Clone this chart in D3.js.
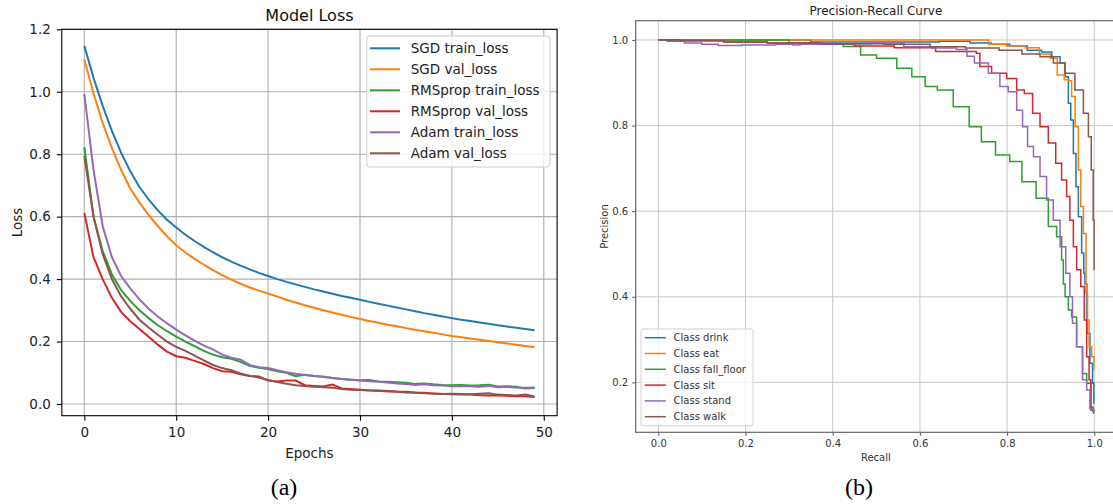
<!DOCTYPE html>
<html>
<head>
<meta charset="utf-8">
<script src="https://cdn.jsdelivr.net/npm/d3@7"></script>
<style>
  body { margin: 0; background: #fff; }
</style>
</head>
<body>
<div id="graph"></div>
<script>
// Model loss per epoch (panel a)
const epochs = d3.range(50);
const sgdTrain = [1.147, 1.045, 0.955, 0.875, 0.805, 0.745, 0.695, 0.655, 0.620, 0.590,
  0.565, 0.542, 0.522, 0.503, 0.486, 0.470, 0.456, 0.443, 0.431, 0.420,
  0.410, 0.400, 0.391, 0.383, 0.375, 0.367, 0.360, 0.353, 0.346, 0.340,
  0.334, 0.327, 0.321, 0.315, 0.309, 0.303, 0.297, 0.291, 0.286, 0.280,
  0.275, 0.270, 0.266, 0.261, 0.257, 0.252, 0.248, 0.244, 0.240, 0.236];
const sgdVal = [1.103, 0.995, 0.900, 0.820, 0.750, 0.690, 0.645, 0.605, 0.570, 0.537,
  0.508, 0.485, 0.465, 0.446, 0.429, 0.413, 0.398, 0.385, 0.373, 0.363,
  0.354, 0.344, 0.334, 0.325, 0.316, 0.308, 0.300, 0.293, 0.286, 0.279,
  0.272, 0.266, 0.260, 0.254, 0.249, 0.243, 0.238, 0.233, 0.228, 0.223,
  0.218, 0.214, 0.210, 0.206, 0.202, 0.198, 0.194, 0.190, 0.186, 0.182];
const rmspropTrain = [0.823, 0.600, 0.490, 0.415, 0.365, 0.330, 0.300, 0.275, 0.252, 0.233,
  0.216, 0.200, 0.185, 0.170, 0.158, 0.150, 0.145, 0.135, 0.122, 0.116,
  0.112, 0.105, 0.100, 0.089, 0.094, 0.090, 0.087, 0.083, 0.080, 0.078,
  0.076, 0.077, 0.072, 0.071, 0.070, 0.068, 0.064, 0.066, 0.063, 0.061,
  0.060, 0.061, 0.059, 0.060, 0.062, 0.056, 0.057, 0.055, 0.050, 0.051];
const rmspropVal = [0.612, 0.470, 0.400, 0.340, 0.295, 0.265, 0.240, 0.215, 0.190, 0.168,
  0.153, 0.148, 0.138, 0.128, 0.115, 0.105, 0.103, 0.095, 0.090, 0.088,
  0.075, 0.072, 0.075, 0.075, 0.060, 0.058, 0.056, 0.062, 0.050, 0.048,
  0.046, 0.044, 0.043, 0.042, 0.040, 0.039, 0.037, 0.036, 0.034, 0.032,
  0.031, 0.030, 0.030, 0.028, 0.027, 0.027, 0.026, 0.025, 0.025, 0.022];
const adamTrain = [0.993, 0.750, 0.570, 0.470, 0.410, 0.370, 0.335, 0.305, 0.280, 0.258,
  0.238, 0.220, 0.203, 0.187, 0.175, 0.158, 0.148, 0.142, 0.125, 0.118,
  0.115, 0.108, 0.102, 0.097, 0.093, 0.090, 0.087, 0.083, 0.080, 0.078,
  0.075, 0.073, 0.071, 0.069, 0.066, 0.064, 0.061, 0.063, 0.060, 0.059,
  0.057, 0.058, 0.057, 0.055, 0.058, 0.054, 0.055, 0.053, 0.052, 0.053];
const adamVal = [0.795, 0.600, 0.480, 0.400, 0.345, 0.305, 0.270, 0.245, 0.222, 0.200,
  0.183, 0.170, 0.155, 0.140, 0.125, 0.115, 0.108, 0.098, 0.090, 0.085,
  0.077, 0.070, 0.065, 0.060, 0.058, 0.055, 0.054, 0.052, 0.048, 0.046,
  0.045, 0.043, 0.042, 0.040, 0.039, 0.037, 0.036, 0.034, 0.033, 0.032,
  0.033, 0.032, 0.031, 0.033, 0.034, 0.030, 0.029, 0.027, 0.030, 0.024];
const lossNames = ['SGD train_loss', 'SGD val_loss', 'RMSprop train_loss', 'RMSprop val_loss', 'Adam train_loss', 'Adam val_loss'];
const lossTicksX = [0, 10, 20, 30, 40, 50];
const lossTicksY = [0.0, 0.2, 0.4, 0.6, 0.8, 1.0, 1.2];

// Precision-recall points [recall, precision] (panel b)
const prDrink = [[0, 1.0], [0.3, 1.0], [0.4, 0.995], [0.6, 0.995], [0.69, 0.997], [0.74, 0.993], [0.786, 0.99],
  [0.826, 0.986], [0.867, 0.976], [0.891, 0.972], [0.914, 0.961], [0.929, 0.946], [0.937, 0.914], [0.944, 0.852],
  [0.948, 0.813], [0.956, 0.735], [0.96, 0.657], [0.967, 0.587], [0.975, 0.502], [0.977, 0.455], [0.98, 0.43],
  [0.986, 0.315], [0.994, 0.245], [0.998, 0.198], [1.0, 0.151]];
const prEat = [[0, 1.0], [0.745, 1.0], [0.77, 0.99], [0.826, 0.986], [0.857, 0.982], [0.891, 0.967], [0.907, 0.957],
  [0.923, 0.918], [0.939, 0.907], [0.944, 0.905], [0.952, 0.868], [0.96, 0.797], [0.967, 0.696], [0.971, 0.611],
  [0.979, 0.548], [0.983, 0.408], [0.986, 0.346], [0.99, 0.283], [0.998, 0.26], [1.0, 0.23]];
const prFallFloor = [[0, 1.0], [0.3, 1.0], [0.3, 0.993], [0.424, 0.99], [0.424, 0.985], [0.458, 0.985], [0.47, 0.965],
  [0.531, 0.957], [0.563, 0.934], [0.6, 0.914], [0.624, 0.891], [0.656, 0.883], [0.697, 0.844], [0.729, 0.797],
  [0.753, 0.762], [0.794, 0.731], [0.818, 0.716], [0.85, 0.669], [0.883, 0.63], [0.906, 0.564], [0.921, 0.54],
  [0.929, 0.486], [0.929, 0.43], [0.937, 0.4], [0.944, 0.369], [0.952, 0.353], [0.967, 0.283], [0.979, 0.221],
  [0.986, 0.198], [0.998, 0.135], [1.0, 0.128]];
const prSit = [[0, 1.0], [0.1, 0.998], [0.2, 0.995], [0.3, 0.993], [0.4, 0.99], [0.5, 0.986], [0.583, 0.982],
  [0.624, 0.982], [0.648, 0.973], [0.729, 0.973],
  [0.73, 0.969], [0.745, 0.938], [0.784, 0.922], [0.814, 0.91], [0.83, 0.883], [0.849, 0.875], [0.868, 0.829],
  [0.883, 0.797], [0.906, 0.759], [0.917, 0.712], [0.933, 0.673], [0.94, 0.634], [0.948, 0.579], [0.956, 0.517],
  [0.963, 0.463], [0.975, 0.424], [0.979, 0.346], [0.986, 0.26], [0.99, 0.206], [0.994, 0.142], [1.0, 0.135]];
const prStand = [[0, 1.0], [0.04, 0.997], [0.08, 0.993], [0.12, 0.99], [0.155, 0.987], [0.23, 0.988], [0.308, 0.99],
  [0.31, 0.988], [0.34, 0.99], [0.44, 0.991], [0.535, 0.993], [0.591, 0.984],
  [0.664, 0.981], [0.704, 0.978], [0.712, 0.962], [0.738, 0.946], [0.776, 0.922], [0.791, 0.891], [0.814, 0.879],
  [0.83, 0.836], [0.841, 0.797], [0.853, 0.751], [0.868, 0.727], [0.883, 0.681], [0.898, 0.626], [0.914, 0.579],
  [0.929, 0.517], [0.94, 0.455], [0.948, 0.4], [0.952, 0.338], [0.967, 0.283], [0.979, 0.206], [0.986, 0.182],
  [0.994, 0.139], [1.0, 0.13]];
const prWalk = [[0, 1.0], [0.1, 0.998], [0.2, 0.995], [0.3, 0.993], [0.45, 0.991], [0.583, 0.99], [0.664, 0.984],
  [0.745, 0.981], [0.818, 0.976], [0.85, 0.967],
  [0.86, 0.967], [0.891, 0.961], [0.921, 0.946], [0.944, 0.922], [0.967, 0.883], [0.983, 0.829], [0.99, 0.774],
  [0.996, 0.696], [0.999, 0.579], [1.0, 0.463]];
const prNames = ['Class drink', 'Class eat', 'Class fall_floor', 'Class sit', 'Class stand', 'Class walk'];
const prTicks = [0.0, 0.2, 0.4, 0.6, 0.8, 1.0];
const prTicksY = [0.2, 0.4, 0.6, 0.8, 1.0];

const colors = ['#1f77b4', '#ff7f0e', '#2ca02c', '#d62728', '#9467bd', '#8c564b'];
const sans = '"DejaVu Sans", sans-serif';
const serif = '"Liberation Serif", "Times New Roman", serif';

const width = 1113;
const height = 504;

const svg = d3.select('#graph')
    .append('svg')
    .attr('width', width)
    .attr('height', height)
    .style('font-family', sans);

svg.append('rect').attr('width', width).attr('height', height).attr('fill', '#fff');

// ---------- panel (a): Model Loss ----------
const a = { left: 61.8, right: 557.1, top: 29.3, bottom: 415.7 };
const xA = d3.scaleLinear().domain([-2.45, 51.45]).range([a.left, a.right]);
const yA = d3.scaleLinear().domain([-0.0375, 1.2]).range([a.bottom, a.top]);

const gA = svg.append('g');

// grid
gA.append('g').selectAll('line').data(lossTicksX).enter().append('line')
    .attr('x1', d => xA(d)).attr('x2', d => xA(d))
    .attr('y1', a.top).attr('y2', a.bottom)
    .attr('stroke', '#b0b0b0').attr('stroke-width', 1.1);
gA.append('g').selectAll('line').data(lossTicksY).enter().append('line')
    .attr('x1', a.left).attr('x2', a.right)
    .attr('y1', d => yA(d)).attr('y2', d => yA(d))
    .attr('stroke', '#b0b0b0').attr('stroke-width', 1.1);

const lossSeries = [sgdTrain, sgdVal, rmspropTrain, rmspropVal, adamTrain, adamVal];
const lossLine = d3.line().x((d, i) => xA(epochs[i])).y(d => yA(d));
gA.append('g').selectAll('path').data(lossSeries).enter().append('path')
    .attr('d', lossLine)
    .attr('fill', 'none')
    .attr('stroke', (d, i) => colors[i])
    .attr('stroke-width', 2);

// axes
const axA_x = gA.append('g').attr('transform', `translate(0,${a.bottom})`)
    .call(d3.axisBottom(xA).tickValues(lossTicksX).tickSize(5).tickPadding(7).tickFormat(d3.format('d')));
const axA_y = gA.append('g').attr('transform', `translate(${a.left},0)`)
    .call(d3.axisLeft(yA).tickValues(lossTicksY).tickSize(5).tickPadding(6).tickFormat(d3.format('.1f')));
[axA_x, axA_y].forEach(ax => {
  ax.attr('font-family', null);
  ax.select('.domain').remove();
  ax.selectAll('line').attr('stroke', '#000').attr('stroke-width', 1.1);
  ax.selectAll('text').attr('font-size', 13.5).attr('fill', '#222');
});
gA.append('rect')
    .attr('x', a.left).attr('y', a.top)
    .attr('width', a.right - a.left).attr('height', a.bottom - a.top)
    .attr('fill', 'none').attr('stroke', '#000').attr('stroke-width', 1.1);

gA.append('text').attr('x', (a.left + a.right) / 2).attr('y', 15.5)
    .attr('text-anchor', 'middle').attr('dominant-baseline', 'central')
    .attr('font-size', 16).attr('fill', '#111').text('Model Loss');
gA.append('text').attr('x', (a.left + a.right) / 2).attr('y', 452.5)
    .attr('text-anchor', 'middle').attr('dominant-baseline', 'central')
    .attr('font-size', 13.5).attr('fill', '#222').text('Epochs');
gA.append('text').attr('transform', `translate(16.5,${(a.top + a.bottom) / 2}) rotate(-90)`)
    .attr('text-anchor', 'middle').attr('dominant-baseline', 'central')
    .attr('font-size', 13.5).attr('fill', '#222').text('Loss');

// legend
const legA = gA.append('g');
legA.append('rect').attr('x', 366.8).attr('y', 36).attr('width', 183.2).attr('height', 131)
    .attr('rx', 3).attr('fill', 'rgba(255,255,255,0.8)').attr('stroke', '#cccccc').attr('stroke-width', 1);
lossNames.forEach((name, i) => {
  const y = 48.3 + i * 21;
  legA.append('line').attr('x1', 370).attr('x2', 400).attr('y1', y).attr('y2', y)
      .attr('stroke', colors[i]).attr('stroke-width', 2);
  legA.append('text').attr('x', 410.7).attr('y', y).attr('dominant-baseline', 'central')
      .attr('font-size', 13.5).attr('fill', '#222').text(name);
});

// ---------- panel (b): Precision-Recall Curve ----------
const b = { left: 635.7, right: 1116.1, top: 20.7, bottom: 432.3 };
const xB = d3.scaleLinear().domain([-0.05, 1.05]).range([636.5, 1116.1]);
const yB = d3.scaleLinear().domain([0.0834, 1.045]).range([b.bottom, b.top]);

const gB = svg.append('g');
gB.append('g').selectAll('line').data(prTicks).enter().append('line')
    .attr('x1', d => xB(d)).attr('x2', d => xB(d))
    .attr('y1', b.top).attr('y2', b.bottom)
    .attr('stroke', '#c8c8c8').attr('stroke-width', 1);
gB.append('g').selectAll('line').data(prTicksY).enter().append('line')
    .attr('x1', b.left).attr('x2', b.right)
    .attr('y1', d => yB(d)).attr('y2', d => yB(d))
    .attr('stroke', '#c8c8c8').attr('stroke-width', 1);

const prSeries = [prDrink, prEat, prFallFloor, prSit, prStand, prWalk];
const prLine = d3.line().x(d => xB(d[0])).y(d => yB(d[1])).curve(d3.curveStep);
gB.append('g').selectAll('path').data(prSeries).enter().append('path')
    .attr('d', prLine)
    .attr('fill', 'none')
    .attr('stroke', (d, i) => colors[i])
    .attr('stroke-width', 1.5);

const axB_x = gB.append('g').attr('transform', `translate(0,${b.bottom})`)
    .call(d3.axisBottom(xB).tickValues(prTicks).tickSize(3.5).tickPadding(4).tickFormat(d3.format('.1f')));
const axB_y = gB.append('g').attr('transform', `translate(${b.left},0)`)
    .call(d3.axisLeft(yB).tickValues(prTicksY).tickSize(3.5).tickPadding(4).tickFormat(d3.format('.1f')));
[axB_x, axB_y].forEach(ax => {
  ax.attr('font-family', null);
  ax.select('.domain').remove();
  ax.selectAll('line').attr('stroke', '#555').attr('stroke-width', 1);
  ax.selectAll('text').attr('font-size', 10).attr('fill', '#333');
});
gB.append('rect')
    .attr('x', b.left).attr('y', b.top)
    .attr('width', b.right - b.left).attr('height', b.bottom - b.top)
    .attr('fill', 'none').attr('stroke', '#666').attr('stroke-width', 1.2);

gB.append('text').attr('x', (b.left + b.right) / 2).attr('y', 11)
    .attr('text-anchor', 'middle').attr('dominant-baseline', 'central')
    .attr('font-size', 12).attr('fill', '#222').text('Precision-Recall Curve');
gB.append('text').attr('x', (b.left + b.right) / 2).attr('y', 457)
    .attr('text-anchor', 'middle').attr('dominant-baseline', 'central')
    .attr('font-size', 10).attr('fill', '#333').text('Recall');
gB.append('text').attr('transform', `translate(604.8,${(b.top + b.bottom) / 2}) rotate(-90)`)
    .attr('text-anchor', 'middle').attr('dominant-baseline', 'central')
    .attr('font-size', 10).attr('fill', '#333').text('Precision');

const legB = gB.append('g');
legB.append('rect').attr('x', 641).attr('y', 329).attr('width', 112).attr('height', 96.7)
    .attr('rx', 2).attr('fill', 'rgba(255,255,255,0.8)').attr('stroke', '#d0d0d0').attr('stroke-width', 1);
prNames.forEach((name, i) => {
  const y = 337.7 + i * 15.8;
  legB.append('line').attr('x1', 644.7).attr('x2', 665.8).attr('y1', y).attr('y2', y)
      .attr('stroke', colors[i]).attr('stroke-width', 1.5);
  legB.append('text').attr('x', 673.6).attr('y', y).attr('dominant-baseline', 'central')
      .attr('font-size', 10).attr('fill', '#333').text(name);
});

// sub-figure captions
svg.append('text').attr('x', 284).attr('y', 487)
    .attr('text-anchor', 'middle').attr('dominant-baseline', 'central')
    .style('font-family', serif)
    .attr('font-size', 24).attr('fill', '#000').text('(a)');
svg.append('text').attr('x', 859).attr('y', 487)
    .attr('text-anchor', 'middle').attr('dominant-baseline', 'central')
    .style('font-family', serif)
    .attr('font-size', 24).attr('fill', '#000').text('(b)');
</script>
</body>
</html>
